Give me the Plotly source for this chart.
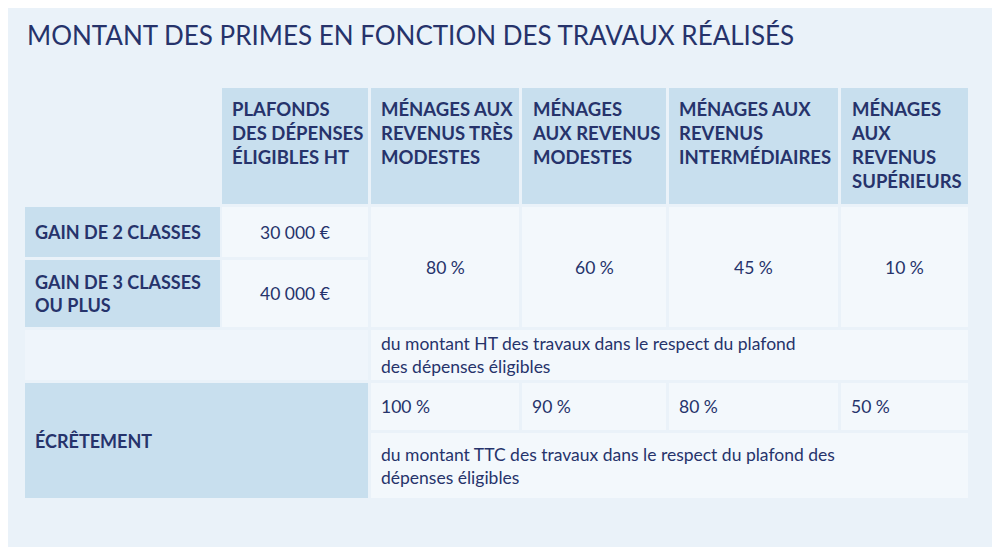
import plotly.graph_objects as go

title = "MONTANT DES PRIMES EN FONCTION DES TRAVAUX RÉALISÉS"
col_headers = ["PLAFONDS<br>DES DÉPENSES<br>ÉLIGIBLES HT", "MÉNAGES AUX<br>REVENUS TRÈS<br>MODESTES",
               "MÉNAGES<br>AUX REVENUS<br>MODESTES", "MÉNAGES AUX<br>REVENUS<br>INTERMÉDIAIRES",
               "MÉNAGES<br>AUX<br>REVENUS<br>SUPÉRIEURS"]
row_headers = ["GAIN DE 2 CLASSES", "GAIN DE 3 CLASSES<br>OU PLUS", "ÉCRÊTEMENT"]
plafonds = ["30 000 €", "40 000 €"]
taux_ht = ["80 %", "60 %", "45 %", "10 %"]
note_ht = "du montant HT des travaux dans le respect du plafond<br>des dépenses éligibles"
ecretement = ["100 %", "90 %", "80 %", "50 %"]
note_ttc = "du montant TTC des travaux dans le respect du plafond des<br>dépenses éligibles"

# grid geometry (pixels)
X = [(25, 220), (222, 368), (371, 519), (522, 666), (669, 838), (841, 968)]
HDR, R1, R2, RHT, RE, RTTC = (88, 204), (207, 257), (260, 327), (330, 380), (383, 430), (433, 498)
BG, HEAD, BODY, NAVY = "#eaf2f9", "#c8dfee", "#f3f8fc", "#26336b"

fig = go.Figure()
fig.add_trace(go.Scatter(x=[0, 1000], y=[0, 547], mode="markers", marker=dict(opacity=0), hoverinfo="skip"))

def cell(x, y, color, text="", align="left", bold=False, valign="top", size=17.5, pad=8):
    fig.add_shape(type="rect", x0=x[0], x1=x[1], y0=y[0], y1=y[1], fillcolor=color, line_width=0, layer="below")
    if text:
        t = f"<b>{text}</b>" if bold else text
        if align == "center":
            ax, xa = (x[0] + x[1]) / 2, "center"
        else:
            ax, xa = x[0] + pad, "left"
        if valign == "middle":
            ay, ya = (y[0] + y[1]) / 2, "middle"
        else:
            ay, ya = y[0] + 8, "top"
        fig.add_annotation(x=ax, y=ay, text=t, showarrow=False, xanchor=xa, yanchor=ya, align=align,
                           font=dict(size=size, color=NAVY, family="Lato"))

for i, h in enumerate(col_headers):
    cell(X[i + 1], HDR, HEAD, h, bold=True, size=18.5)
cell(X[0], R1, HEAD, row_headers[0], bold=True, valign="middle", size=18)
cell(X[0], R2, HEAD, row_headers[1], bold=True, valign="middle", size=18)
cell(X[1], R1, BODY, plafonds[0], align="center", valign="middle")
cell(X[1], R2, BODY, plafonds[1], align="center", valign="middle")
for i, v in enumerate(taux_ht):
    cell(X[i + 2], (R1[0], R2[1]), BODY, v, align="center", valign="middle")
cell((X[0][0], X[1][1]), RHT, "#eff5fb")
cell((X[2][0], X[5][1]), RHT, BODY, note_ht, valign="middle")
cell((X[0][0], X[1][1]), (RE[0], RTTC[1]), HEAD, row_headers[2], bold=True, valign="middle", size=18)
for i, v in enumerate(ecretement):
    cell(X[i + 2], RE, BODY, v, valign="middle")
cell((X[2][0], X[5][1]), RTTC, BODY, note_ttc, valign="middle")

fig.add_annotation(x=25, y=35, text=title, showarrow=False, xanchor="left", yanchor="middle",
                   font=dict(size=26, color=NAVY, family="Lato"))

fig.update_layout(width=1000, height=547, margin=dict(l=0, r=0, t=0, b=0),
                  paper_bgcolor=BG, plot_bgcolor=BG, showlegend=False,
                  xaxis=dict(range=[8, 1008], visible=False, fixedrange=True),
                  yaxis=dict(range=[555, 8], visible=False, fixedrange=True))
fig.write_html("out.html")
